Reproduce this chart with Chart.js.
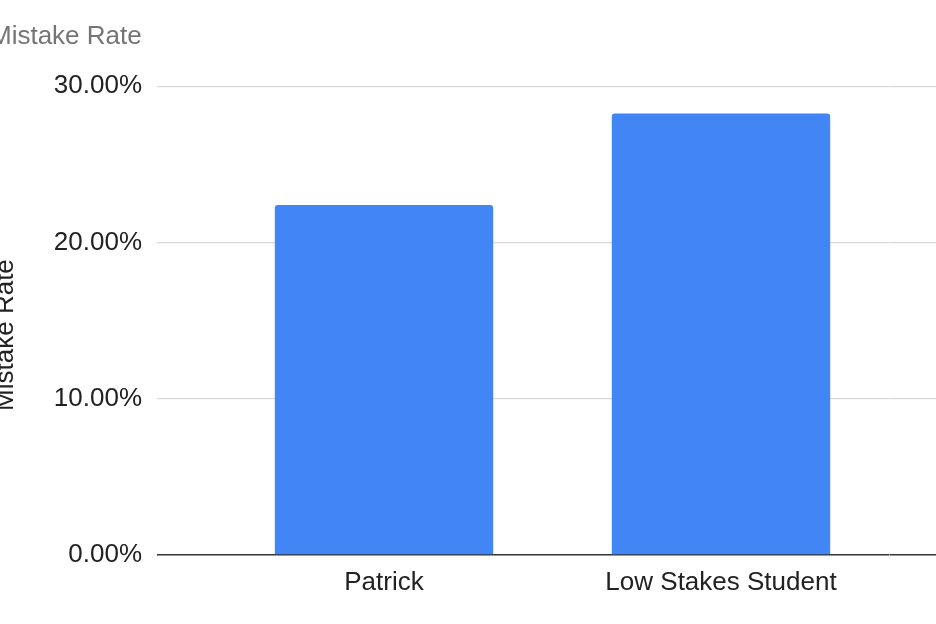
<!DOCTYPE html>
<html>
<head>
<meta charset="utf-8">
<script src="https://cdn.jsdelivr.net/npm/chart.js@4.4.0/dist/chart.umd.min.js"></script>
<style>
  html, body { margin: 0; padding: 0; background: #fff; overflow: hidden; }
  #wrap { position: absolute; left: -10px; top: 0; width: 966px; height: 624px; }
</style>
</head>
<body>
<div id="wrap"><canvas id="chart"></canvas></div>
<script>
const categories = ['Patrick', 'Low Stakes Student'];
const mistakeRate = [0.2239, 0.2826];
const yTicks = [0, 0.1, 0.2, 0.3];

const font = { family: '"Liberation Sans", Arial, sans-serif', size: 26 };
const gridColor = (ctx) => (ctx.tick && ctx.tick.value === 0 ? '#333333' : '#d9d9d9');
const gridWidth = (ctx) => (ctx.tick && ctx.tick.value === 0 ? 1.5 : 1.2);
const useTicks = (scale) => { scale.ticks = yTicks.map(v => ({ value: v })); };

const ctx = document.getElementById('chart').getContext('2d');
new Chart(ctx, {
  type: 'bar',
  data: {
    labels: categories,
    datasets: [{
      label: 'Mistake Rate',
      data: mistakeRate,
      backgroundColor: '#4285f4',
      borderRadius: 3,
      barPercentage: 0.648,
      categoryPercentage: 1
    }]
  },
  options: {
    responsive: true,
    maintainAspectRatio: false,
    animation: false,
    layout: { padding: 0 },
    plugins: {
      legend: { display: false },
      tooltip: { enabled: false },
      title: {
        display: true,
        text: 'Mistake Rate',
        align: 'start',
        color: '#757575',
        font: { ...font, weight: 'normal' },
        padding: { top: 21, bottom: 34 }
      }
    },
    scales: {
      x: {
        offset: true,
        grid: { display: false, drawTicks: false },
        border: { display: false },
        ticks: { color: '#222', font, padding: 12, maxRotation: 0, autoSkip: false },
        afterFit: (scale) => { scale.height = 69; }
      },
      y: {
        min: 0,
        max: 0.3,
        afterBuildTicks: useTicks,
        grid: { color: gridColor, lineWidth: gridWidth, tickLength: 58.5 },
        border: { display: false },
        ticks: {
          color: '#222',
          font,
          padding: 15,
          callback: (v) => (v * 100).toFixed(2) + '%'
        },
        title: {
          display: true,
          // trailing spaces push the centred title a little lower, as in the original
          text: 'Mistake Rate    ',
          color: '#222',
          font,
          padding: { top: 0, bottom: 0 }
        },
        afterFit: (scale) => { scale.width = 225.5; }
      },
      y2: {
        position: 'right',
        min: 0,
        max: 0.3,
        afterBuildTicks: useTicks,
        grid: { drawOnChartArea: false, color: gridColor, lineWidth: gridWidth, tickLength: 70 },
        border: { display: false },
        ticks: { display: false },
        afterFit: (scale) => { scale.width = 66.5; }
      }
    }
  }
});
</script>
</body>
</html>
